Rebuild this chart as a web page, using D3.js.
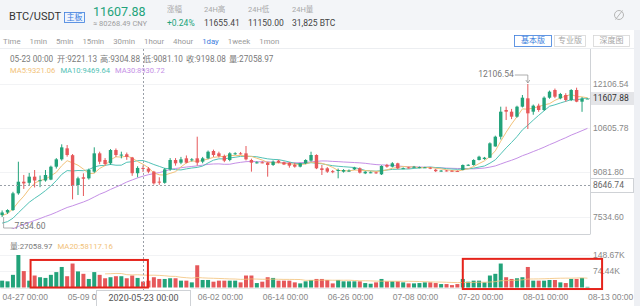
<!DOCTYPE html>
<html>
<head>
<meta charset="utf-8">
<script src="https://cdn.jsdelivr.net/npm/d3@7"></script>
<style>
  body { margin: 0; background: #eef0f4; }
  svg { display: block; font-family: Roboto, 'Noto Sans CJK SC', sans-serif; }
</style>
</head>
<body>
<div id="chart"></div>
<script>
// daily candles, first one is 2020-04-27
var firstDay = Date.UTC(2020, 3, 27);

var opens = [7600,7690,7775,8348,8748,8710,8921,8790,8790,8820,
  9264,9517,9895,9660,8634,8900,8864,9093,9723,9494,
  9380,9837,9665,9690,9580,9040,9221.13,9198,9093,8750,
  8710,9173,9494,9402,9552,9500,9552,9437,9552,9803,
  9723,9631,9494,9715,9723,9723,9494,9410,9414,9402,
  9323,9471,9414,9400,9330,9265,9380,9471,9666,9208,
  9208,9110,9140,9093,9127,9173,9208,9036,9070,9070,
  9001,9322,9265,9380,9208,9240,9258,9230,9240,9230,
  9160,9110,9135,9125,9120,9150,9322,9322,9494,9528,
  9573,9960,10295,11213,11155,10983,11327,11614,11155,11362,
  11213,11636,11900,11614,11728,11556,11900,11499,11600];

var highs = [7760,7800,8400,9435,8980,9050,9150,8960,9150,9300,
  9560,10033,10009,9700,8920,9036,9200,9930,9780,9560,
  9870,9890,9780,9750,9600,9280,9304.88,9250,9120,8900,
  9220,9560,9560,9600,9650,9560,10295,9600,9820,9850,
  9780,9680,9760,9760,9770,9975,9540,9450,9450,9430,
  9480,9500,9440,9420,9400,9400,9520,9779,9690,9322,
  9250,9150,9200,9180,9170,9260,9240,9110,9100,9090,
  9310,9360,9420,9400,9240,9260,9290,9270,9260,9250,
  9190,9150,9150,9140,9135,9340,9350,9520,9640,9600,
  10100,10330,11327,11327,11250,11360,11728,12106.54,11400,11430,
  11680,11880,11950,11800,11790,11930,11980,11655.41,11615];

var lows = [7534.60,7640,7740,8300,8500,8600,8550,8560,8750,8800,
  9200,9470,9608,8142,8290,8256,8820,9050,9350,9300,
  9330,9600,9550,9500,8950,8900,9081.10,9040,8650,8640,
  8680,9120,9300,9350,9380,9440,9300,9380,9520,9600,
  9580,9420,9450,9670,9680,9480,9093,9370,9380,8921,
  9290,9380,9320,9230,9230,9240,9350,9440,9180,8978,
  9050,9040,8864,9060,9090,9150,9030,9010,9040,9020,
  8980,9230,9240,9180,9180,9200,9230,9210,9220,9180,
  9080,9090,9100,9090,9085,9140,9290,9300,9480,9500,
  9560,9952,10200,10869,10900,10950,11300,10560,11050,11150,
  11180,11600,11620,11580,11500,11520,11480,11150,11595];

var closes = [7690,7775,8348,8748,8690,8921,8790,8800,8978,9264,
  9517,9929,9665,8600,8864,8850,9150,9723,9436,9356,
  9837,9665,9680,9600,9040,9221,9198.08,9093,8692,8720,
  9173,9494,9380,9517,9402,9517,9402,9552,9779,9666,
  9631,9471,9723,9725,9720,9517,9402,9414,9408,9323,
  9437,9402,9340,9300,9265,9380,9494,9666,9208,9150,
  9093,9080,9150,9150,9130,9230,9059,9093,9072,9050,
  9288,9265,9380,9208,9212,9220,9262,9250,9242,9200,
  9110,9130,9115,9100,9100,9322,9330,9494,9607,9573,
  10067,10295,11155,11155,10983,11327,11636,11098,11362,11213,
  11636,11843,11670,11763,11556,11900,11499,11600,11607.88];

var volumes = [31300,28200,57900,148670,75100,31300,54800,47000,43800,57900,
  70400,93900,51600,109600,73600,62600,39100,70400,57900,42300,
  47000,51600,51600,42300,54800,43800,27058.97,31300,47000,39100,
  39100,42300,42300,31300,31300,23500,101700,34400,34400,26600,
  31300,31300,31300,31300,23500,54800,54800,20300,26600,47000,
  43800,31300,31300,31300,23500,18800,28200,34400,39100,39100,
  34400,18800,34400,28200,28200,28200,28200,20300,17200,23500,
  39100,28200,28200,28200,23500,18800,18800,20300,23500,23500,
  20300,15700,15700,11000,15700,39100,26600,31300,31300,23500,
  54800,62600,109600,47000,39100,42300,47000,93900,31300,31300,
  31300,34400,34400,23500,20300,39100,39100,43800,3100];

// closes before the first visible candle, only used for the moving averages
var prevCloses = [5881,6394,6410,6642,6794,6734,6856,6772,7329,7197,
  7361,7284,6858,6865,6913,6857,6843,6625,7117,7096,
  7257,7189,6881,6880,7117,7429,7551,7570,7679];

var priceTicks = [12106.54, 10605.78, 9081.80, 7534.60];
var volumeTicks = [148670, 74440];
var lastPrice = 11607.88;

// crosshair readout
var hoverIndex = 26;
var hoverPrice = 8646.74;
var hoverMA = [9321.06, 9469.64, 8930.72];
var hoverVolMA = 58117.16;

// boxes drawn over the volume pane: [from index, to index, top volume, bottom volume]
var highlightBoxes = [[5.25, 26.9, 126000, 0], [85, 110.7, 131000, -7000]];

var ticker = { pair: 'BTC/USDT', tag: '主板', price: '11607.88', cny: '≈ 80268.49 CNY' };
var stats = [['涨幅', '+0.24%'], ['24H高', '11655.41'], ['24H低', '11150.00'], ['24H量', '31,825 BTC']];
var timeTabs = ['Time', '1min', '5min', '15min', '30min', '1hour', '4hour', '1day', '1week', '1mon'];
var viewButtons = ['基本版', '专业版', '深度图'];

var colors = {
  up: '#22a37a',
  down: '#e6585a',
  ma5: '#f2c279',
  ma10: '#52c2b6',
  ma30: '#c590e6',
  text: '#7a7a7a',
  dark: '#333',
  blue: '#3b7ddd',
  grid: '#f2f3f5',
  box: '#e5231b'
};

var day = 864e5;
var W = 640, H = 306;
var dates = closes.map(function (c, i) { return new Date(firstDay + i * day); });

var svg = d3.select('#chart').append('svg')
  .attr('width', W)
  .attr('height', H);

//Panels
svg.append('rect').attr('width', W).attr('height', 30).attr('fill', '#f3f5f8');
svg.append('rect').attr('y', 30).attr('width', 634).attr('height', H - 30).attr('fill', '#fff');
svg.append('line').attr('x1', 0).attr('x2', 634).attr('y1', 48.5).attr('y2', 48.5).attr('stroke', '#eceef1');

function addText(g, x, y, txt, size, color, anchor) {
  return g.append('text')
    .attr('x', x).attr('y', y)
    .attr('dominant-baseline', 'middle')
    .attr('text-anchor', anchor || 'start')
    .style('font-size', size + 'px')
    .attr('fill', color)
    .text(txt);
}

//Header
var header = svg.append('g');
addText(header, 9, 17.5, ticker.pair, 11, colors.dark);
header.append('rect').attr('x', 64.5).attr('y', 12.5).attr('width', 20).attr('height', 10)
  .attr('fill', '#eef4fd').attr('stroke', colors.blue).attr('stroke-width', 0.8);
addText(header, 74.5, 17.8, ticker.tag, 8, colors.blue, 'middle');
addText(header, 93, 13, ticker.price, 12.5, colors.up);
addText(header, 93, 24, ticker.cny, 7.5, '#a0a0a0');
var statX = [167, 204, 248, 292];
stats.forEach(function (s, i) {
  addText(header, statX[i], 10.5, s[0], 7.5, '#a8a8a8');
  addText(header, statX[i], 23.5, s[1], 8.5, i === 0 ? colors.up : '#444');
});
// settings icon
header.append('circle').attr('cx', 619).attr('cy', 15).attr('r', 4.5).attr('fill', 'none').attr('stroke', '#b5b5b5');
header.append('line').attr('x1', 615.5).attr('y1', 19.5).attr('x2', 622.5).attr('y2', 10.5).attr('stroke', '#b5b5b5');

//Time tabs
var tabs = svg.append('g');
var tx = 3;
timeTabs.forEach(function (t) {
  var el = addText(tabs, tx, 41.5, t, 7.8, t === '1day' ? colors.blue : '#9a9a9a');
  tx += el.node().getComputedTextLength() + 9;
});
var bx = [514, 554, 593], bw = [37, 31, 36];
viewButtons.forEach(function (b, i) {
  tabs.append('rect').attr('x', bx[i] + 0.5).attr('y', 35.5).attr('width', bw[i]).attr('height', 11)
    .attr('fill', '#fff').attr('stroke', i === 0 ? colors.blue : '#d6d6d6').attr('stroke-width', 0.8);
  addText(tabs, bx[i] + 0.5 + bw[i] / 2, 41.3, b, 8, i === 0 ? colors.blue : '#a6a6a6', 'middle');
});

//Scales
var x = d3.scaleUtc()
  .domain([new Date(firstDay - 0.39 * day), new Date(firstDay + 108.47 * day)])
  .range([0, 590]);
var y = d3.scaleLinear().domain([7534.60, 12106.54]).range([217, 84]);
var yVol = d3.scaleLinear().domain([0, 148670]).range([287.5, 255]);

//Moving averages
var allCloses = prevCloses.concat(closes);
function movingAverage(n) {
  return closes.map(function (c, i) {
    var j = i + prevCloses.length;
    if (j + 1 < n) return null;
    return d3.mean(allCloses.slice(j - n + 1, j + 1));
  });
}
function volumeAverage(n) {
  return volumes.map(function (v, i) {
    if (i + 1 < n) return null;
    return d3.mean(volumes.slice(i - n + 1, i + 1));
  });
}

//Clip for the price pane
svg.append('clipPath').attr('id', 'priceClip')
  .append('rect').attr('x', 0).attr('y', 49).attr('width', 590).attr('height', 180);

//Crosshair date tag covers part of the time axis
var hoverX = Math.round(x(dates[hoverIndex])) + 0.5;
var tagHalf = 47;
var axisClip = svg.append('clipPath').attr('id', 'axisClip');
axisClip.append('rect').attr('x', -5).attr('y', -5).attr('width', hoverX - tagHalf + 5).attr('height', 30);
axisClip.append('rect').attr('x', hoverX + tagHalf).attr('y', -5).attr('width', 640).attr('height', 30);

//Grid
var grid = svg.append('g');
grid.selectAll('.pgrid').data(priceTicks).enter().append('line')
  .attr('x1', 0).attr('x2', 590)
  .attr('y1', function (d) { return Math.round(y(d)) + 0.5; })
  .attr('y2', function (d) { return Math.round(y(d)) + 0.5; })
  .attr('stroke', colors.grid);
grid.selectAll('.vgrid').data(volumeTicks).enter().append('line')
  .attr('x1', 0).attr('x2', 590)
  .attr('y1', function (d) { return Math.round(yVol(d)) + 0.5; })
  .attr('y2', function (d) { return Math.round(yVol(d)) + 0.5; })
  .attr('stroke', colors.grid);

var pricePane = svg.append('g').attr('clip-path', 'url(#priceClip)');

var line = d3.line()
  .defined(function (d) { return d != null; })
  .x(function (d, i) { return x(dates[i]); })
  .y(function (d) { return y(d); });

[[30, colors.ma30], [10, colors.ma10], [5, colors.ma5]].forEach(function (m) {
  pricePane.append('path')
    .attr('d', line(movingAverage(m[0])))
    .attr('fill', 'none')
    .attr('stroke', m[1])
    .attr('stroke-width', 1);
});

//Candles
var candleW = 3.4;
var candle = pricePane.selectAll('.candle').data(dates).enter().append('g').attr('class', 'candle');
candle.append('line')
  .attr('x1', function (d) { return x(d); })
  .attr('x2', function (d) { return x(d); })
  .attr('y1', function (d, i) { return y(highs[i]); })
  .attr('y2', function (d, i) { return y(lows[i]); })
  .attr('stroke', function (d, i) { return closes[i] >= opens[i] ? colors.up : colors.down; })
  .attr('stroke-width', 1);
candle.append('rect')
  .attr('x', function (d) { return x(d) - candleW / 2; })
  .attr('width', candleW)
  .attr('y', function (d, i) { return y(Math.max(opens[i], closes[i])); })
  .attr('height', function (d, i) { return Math.max(1, Math.abs(y(opens[i]) - y(closes[i]))); })
  .attr('fill', function (d, i) { return closes[i] >= opens[i] ? colors.up : colors.down; });

//Last price dashed
var lastX = x(dates[dates.length - 1]);
svg.append('line').attr('x1', lastX + 2).attr('x2', 590).attr('y1', y(lastPrice)).attr('y2', y(lastPrice))
  .attr('stroke', '#999').attr('stroke-dasharray', '2,2');

//Max / min markers
var maxI = d3.maxIndex(highs), minI = d3.minIndex(lows);
var mx = x(dates[maxI]), my = y(highs[maxI]);
svg.append('path')
  .attr('d', 'M' + (mx - 13) + ',' + (my - 9) + 'H' + mx + 'V' + (my - 1))
  .attr('fill', 'none').attr('stroke', '#999').attr('stroke-width', 0.8);
svg.append('path')
  .attr('d', 'M' + (mx - 2) + ',' + (my - 4) + 'L' + mx + ',' + (my - 1) + 'L' + (mx + 2) + ',' + (my - 4))
  .attr('fill', 'none').attr('stroke', '#999').attr('stroke-width', 0.8);
addText(svg, mx - 14, my - 9, d3.format('.2f')(highs[maxI]), 8.5, '#777', 'end');

var nx = x(dates[minI]) + 1.5, ny = y(lows[minI]);
svg.append('path')
  .attr('d', 'M' + nx + ',' + ny + 'V' + (ny + 11) + 'H' + (nx + 10))
  .attr('fill', 'none').attr('stroke', '#999').attr('stroke-width', 0.8);
addText(svg, nx + 11, ny + 10, d3.format('.2f')(lows[minI]), 8.5, '#777');

//Pane separator
svg.append('line').attr('x1', 0).attr('x2', 590).attr('y1', 234.5).attr('y2', 234.5).attr('stroke', '#cfd2d6');
svg.append('line').attr('x1', 590.5).attr('x2', 590.5).attr('y1', 49).attr('y2', 234.5).attr('stroke', '#cfd2d6');

//Volume bars
var volW = 4;
svg.append('g').selectAll('rect').data(dates).enter().append('rect')
  .attr('x', function (d) { return x(d) - volW / 2; })
  .attr('width', volW)
  .attr('y', function (d, i) { return yVol(volumes[i]); })
  .attr('height', function (d, i) { return yVol(0) - yVol(volumes[i]); })
  .attr('fill', function (d, i) { return closes[i] >= opens[i] ? colors.up : colors.down; });

var volLine = d3.line()
  .defined(function (d) { return d != null; })
  .x(function (d, i) { return x(dates[i]); })
  .y(function (d) { return yVol(d); });
svg.append('path').attr('d', volLine(volumeAverage(20)))
  .attr('fill', 'none').attr('stroke', colors.ma5).attr('stroke-width', 1).attr('opacity', 0.8);

//Axes
var yAxis = d3.axisRight(y).tickValues(priceTicks).tickFormat(d3.format('.2f')).tickSize(0).tickPadding(3);
var gy = svg.append('g').attr('transform', 'translate(590,0)').call(yAxis);
gy.select('.domain').remove();
gy.selectAll('text').attr('fill', '#888').style('font-size', '8.5px');

var volAxis = d3.axisRight(yVol).tickValues(volumeTicks)
  .tickFormat(function (v) { return (v / 1000).toFixed(2) + 'K'; })
  .tickSize(0).tickPadding(3);
var gv = svg.append('g').attr('transform', 'translate(590,0)').call(volAxis);
gv.select('.domain').remove();
gv.selectAll('text').attr('fill', '#888').style('font-size', '8.5px');

// one label every 12 days, the one that sits fully under the date tag is not drawn
var tickDates = d3.range(0, dates.length, 12)
  .map(function (i) { return dates[i]; })
  .filter(function (d) { return x(d) < hoverX - tagHalf || x(d) > hoverX + tagHalf; });
var xAxis = d3.axisBottom(x).tickValues(tickDates).tickFormat(d3.utcFormat('%m-%d %H:%M'))
  .tickSize(0).tickSizeOuter(0).tickPadding(6);
var gx = svg.append('g').attr('transform', 'translate(0,288)')
  .attr('clip-path', 'url(#axisClip)')
  .call(xAxis);
gx.select('.domain').attr('stroke', '#e8e8e8');
gx.selectAll('text').attr('text-anchor', 'start').attr('fill', '#888').style('font-size', '8.5px');

//Current price tag
var lp = y(lastPrice);
svg.append('rect').attr('x', 591).attr('y', lp - 6.5).attr('width', 43).attr('height', 13).attr('fill', '#e4e5e8');
addText(svg, 593, lp, d3.format('.2f')(lastPrice), 8.5, '#333');

//Crosshair
var cx = hoverX, cy = Math.round(y(hoverPrice)) + 0.5;
svg.append('line').attr('x1', cx).attr('x2', cx).attr('y1', 49).attr('y2', 290)
  .attr('stroke', '#9aa0a8').attr('stroke-dasharray', '2,2');
svg.append('line').attr('x1', 0).attr('x2', 590).attr('y1', cy).attr('y2', cy)
  .attr('stroke', '#9aa0a8').attr('stroke-dasharray', '2,2');
svg.append('rect').attr('x', 590.5).attr('y', cy - 7).attr('width', 43).attr('height', 14)
  .attr('fill', '#fff').attr('stroke', '#cfd2d6');
addText(svg, 593, cy, d3.format('.2f')(hoverPrice), 8.5, '#666');
svg.append('rect').attr('x', cx - tagHalf).attr('y', 290.5).attr('width', tagHalf * 2).attr('height', 16)
  .attr('fill', '#fff').attr('stroke', '#cfd2d6');
addText(svg, cx, 298.5, d3.utcFormat('%Y-%m-%d %H:%M')(dates[hoverIndex]), 9, '#555', 'middle');

//Readout lines
function readout(items, y0, size) {
  var px = 10;
  items.forEach(function (it) {
    var el = addText(svg, px, y0, it[0], size, it[1]);
    px += el.node().getComputedTextLength() + (it[2] || 3);
  });
}
var f2 = d3.format('.2f');
readout([
  [d3.utcFormat('%m-%d %H:%M')(dates[hoverIndex]), colors.text, 4],
  ['开:' + f2(opens[hoverIndex]), colors.text],
  ['高:' + f2(highs[hoverIndex]), colors.text],
  ['低:' + f2(lows[hoverIndex]), colors.text],
  ['收:' + f2(closes[hoverIndex]), colors.text],
  ['量:' + f2(volumes[hoverIndex]), colors.text]
], 59.5, 8.2);
readout([
  ['MA5:' + f2(hoverMA[0]), colors.ma5, 5],
  ['MA10:' + f2(hoverMA[1]), colors.ma10, 5],
  ['MA30:' + f2(hoverMA[2]), colors.ma30]
], 70.5, 7.6);
readout([
  ['量:' + f2(volumes[hoverIndex]), colors.text, 5],
  ['MA20:' + f2(hoverVolMA), colors.ma5]
], 246.5, 7.8);

//Highlight boxes
svg.selectAll('.hbox').data(highlightBoxes).enter().append('rect')
  .attr('x', function (d) { return x(new Date(firstDay + d[0] * day)); })
  .attr('y', function (d) { return yVol(d[2]); })
  .attr('width', function (d) { return x(new Date(firstDay + d[1] * day)) - x(new Date(firstDay + d[0] * day)); })
  .attr('height', function (d) { return yVol(d[3]) - yVol(d[2]); })
  .attr('fill', 'none')
  .attr('stroke', colors.box)
  .attr('stroke-width', 2);
</script>
</body>
</html>
